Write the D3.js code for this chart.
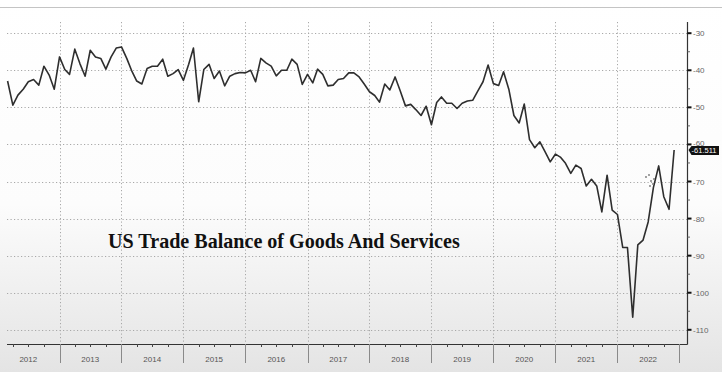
<!DOCTYPE html>
<html><head><meta charset="utf-8">
<script src="https://cdn.jsdelivr.net/npm/d3@7/dist/d3.min.js"></script>
<style>html,body{margin:0;padding:0;background:#fff;}svg{display:block;}</style>
</head><body>
<svg id="c" width="722" height="372"></svg>
<script>
// ---- data (monthly, Feb 2012 .. Nov 2022, billions USD) ----
const startMonth = "2012-02";
const values = [
  -42.9,-49.4,-46.7,-45.1,-43.1,-42.5,-44.0,-38.9,-41.3,-45.1,-36.4,
  -39.8,-41.1,-34.3,-38.2,-41.6,-34.6,-36.4,-36.8,-39.7,-36.4,-34.0,-33.7,
  -36.8,-40.0,-42.9,-43.7,-39.5,-38.9,-38.9,-37.0,-41.6,-40.9,-39.8,-42.7,
  -38.4,-34.0,-48.5,-39.8,-38.4,-42.2,-40.2,-44.2,-41.6,-40.9,-40.6,-40.7,
  -40.0,-43.1,-36.8,-38.0,-38.9,-41.5,-40.0,-40.0,-37.0,-38.4,-43.8,-41.1,
  -43.4,-39.7,-41.1,-44.2,-44.0,-42.5,-42.2,-40.7,-40.7,-41.8,-43.7,-45.8,
  -46.8,-48.6,-43.7,-45.3,-41.8,-45.5,-49.6,-49.2,-50.6,-52.2,-49.7,-54.7,
  -48.7,-47.2,-48.9,-48.9,-50.3,-48.9,-48.3,-48.1,-45.6,-43.1,-38.6,-43.6,
  -44.1,-40.4,-45.1,-52.2,-54.2,-49.1,-58.7,-60.9,-59.3,-62.0,-64.7,-62.6,
  -63.5,-65.1,-67.8,-65.6,-66.5,-71.2,-69.4,-71.2,-78.2,-68.3,-77.7,-78.9,
  -87.8,-87.8,-106.6,-87.1,-85.8,-80.9,-71.6,-65.8,-74.1,-77.5,-61.511
];
const years = [2012,2013,2014,2015,2016,2017,2018,2019,2020,2021,2022];
const yTicks = [-30,-40,-50,-60,-70,-80,-90,-100,-110];
const lastLabel = "-61.511";
const title = "US Trade Balance of Goods And Services";

// ---- build dated series (point plotted at month end) ----
const [sy, sm] = startMonth.split("-").map(Number);
const series = values.map((v, i) => ({date: new Date(Date.UTC(sy, sm - 1 + i + 1, 1)), value: v}));

const svg = d3.select("#c");
const defs = svg.append("defs");
const grad = defs.append("linearGradient").attr("id","bg").attr("x1",0).attr("y1",0).attr("x2",0).attr("y2",1);
grad.append("stop").attr("offset","0%").attr("stop-color","#ffffff");
grad.append("stop").attr("offset","55%").attr("stop-color","#fcfcfc");
grad.append("stop").attr("offset","100%").attr("stop-color","#e4e4e4");
svg.append("rect").attr("width",722).attr("height",372).attr("fill","url(#bg)");
// top frame line
svg.append("line").attr("x1",0).attr("x2",722).attr("y1",7.5).attr("y2",7.5).attr("stroke","#c4c4c4").attr("stroke-width",1.2);

const x = d3.scaleUtc().domain([new Date(Date.UTC(2012,0,1)), new Date(Date.UTC(2023,0,1))]).range([-2.6, 679.4]);
const y = d3.scaleLinear().domain([-30,-110]).range([33.2, 329.8]);
const plotLeft = 7, axisX = 687.5, plotTop = 22, axisY = 344;

// grid
const grid = svg.append("g").attr("stroke","#a8a8a8").attr("stroke-width",1).attr("stroke-dasharray","1.2,2.3");
grid.selectAll("line.h").data(yTicks).join("line").attr("class","h")
  .attr("x1",plotLeft).attr("x2",axisX).attr("y1",d=>Math.round(y(d))+0.5).attr("y2",d=>Math.round(y(d))+0.5);
const yearBounds = years.slice(1).concat([2023]).map(yy => new Date(Date.UTC(yy,0,1)));
grid.selectAll("line.v").data(yearBounds.slice(0,-1)).join("line").attr("class","v")
  .attr("x1",d=>Math.round(x(d))+0.5).attr("x2",d=>Math.round(x(d))+0.5).attr("y1",plotTop).attr("y2",axisY);

// bottom axis
const bx = svg.append("g");
bx.append("line").attr("x1",plotLeft).attr("x2",axisX).attr("y1",axisY+0.5).attr("y2",axisY+0.5).attr("stroke","#333").attr("stroke-width",1);
const quarters = d3.utcMonth.every(3).range(new Date(Date.UTC(2012,0,1)), new Date(Date.UTC(2023,0,2))).filter(d=>d.getUTCMonth()!==0);
bx.selectAll("line.q").data(quarters).join("line").attr("class","q")
  .attr("x1",d=>Math.round(x(d))+0.5).attr("x2",d=>Math.round(x(d))+0.5).attr("y1",axisY).attr("y2",axisY+3).attr("stroke","#444");
const yb = [new Date(Date.UTC(2012,0,1))].concat(yearBounds);
bx.selectAll("line.yb").data(yb).join("line").attr("class","yb")
  .attr("x1",d=>Math.round(x(d))+0.5).attr("x2",d=>Math.round(x(d))+0.5).attr("y1",axisY).attr("y2",363).attr("stroke","#8a8a8a");
bx.selectAll("text.yl").data(years).join("text").attr("class","yl")
  .attr("x",d=>x(new Date(Date.UTC(d,6,1)))).attr("y",362)
  .attr("text-anchor","middle").attr("font-family","Liberation Sans, Arial, sans-serif").attr("font-size",8)
  .attr("fill","#555").text(d=>d);

// right axis
const ra = svg.append("g");
ra.append("line").attr("x1",axisX).attr("x2",axisX).attr("y1",plotTop).attr("y2",axisY+0.5).attr("stroke","#333").attr("stroke-width",1.2);
const minor = d3.range(-35,-111,-10);
ra.selectAll("line.mn").data(minor).join("line").attr("class","mn")
  .attr("x1",axisX).attr("x2",axisX+2.5).attr("y1",d=>y(d)).attr("y2",d=>y(d)).attr("stroke","#666");
ra.selectAll("line.mj").data(yTicks).join("line").attr("class","mj")
  .attr("x1",axisX).attr("x2",axisX+4).attr("y1",d=>y(d)).attr("y2",d=>y(d)).attr("stroke","#111").attr("stroke-width",2);
ra.selectAll("text").data(yTicks).join("text")
  .attr("x",693).attr("y",d=>y(d)+3 - (d===-60 ? 1.5 : 0))
  .attr("font-family","Liberation Sans, Arial, sans-serif").attr("font-size",8).attr("fill","#666")
  .text(d=>d);

// line
const line = d3.line().x(d=>x(d.date)).y(d=>y(d.value));
svg.append("path").datum(series).attr("d",line).attr("fill","none").attr("stroke","#2e2e2e")
  .attr("stroke-width",1.6).attr("stroke-linejoin","round");

// small cursor sparkle seen on the reference
const sp = svg.append("g").attr("fill","#777");
[[646,177],[649,175],[651,181],[653,184],[650,186],[654,179]].forEach(p=>sp.append("circle").attr("cx",p[0]).attr("cy",p[1]).attr("r",0.9));

// last value tag
const last = series[series.length-1];
const ly = y(last.value);
const tag = svg.append("g");
tag.append("path").attr("d",`M${axisX+1},${ly} L${axisX+4},${ly-4} L${719},${ly-4} L${719},${ly+5} L${axisX+4},${ly+5} Z`).attr("fill","#111");
tag.append("text").attr("x",704).attr("y",ly+3.2).attr("text-anchor","middle")
  .attr("font-family","Liberation Sans, Arial, sans-serif").attr("font-size",7.5).attr("fill","#fff").text(lastLabel);

// title
const t = svg.append("text").attr("x",108).attr("y",248)
  .attr("font-family","Liberation Serif, Times New Roman, serif").attr("font-weight","bold")
  .attr("font-size",19).attr("fill","#111").text(title);
const w = t.node().getComputedTextLength();
t.attr("font-size", 19*352/w);
</script>
</body></html>
